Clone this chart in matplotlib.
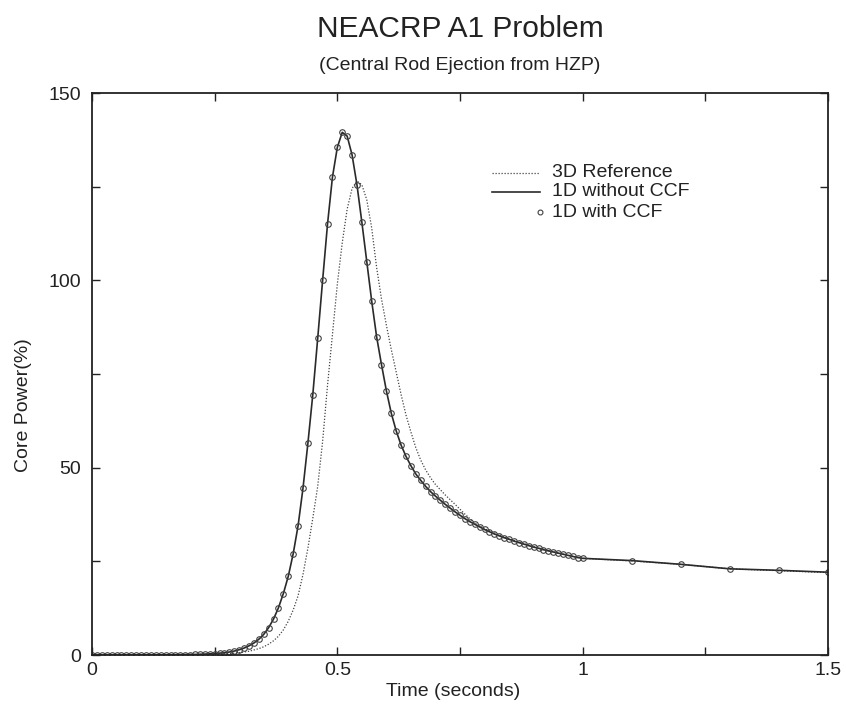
import numpy as np
import matplotlib
matplotlib.use("Agg")
import matplotlib.pyplot as plt
from matplotlib.ticker import MultipleLocator, FuncFormatter

plt.rcParams['font.family'] = ['Liberation Sans', 'DejaVu Sans']

# ---------------- data ----------------
title = "NEACRP A1 Problem"
subtitle = "(Central Rod Ejection from HZP)"
xlabel = "Time (seconds)"
ylabel = "Core Power(%)"
series_names = ["3D Reference", "1D without CCF", "1D with CCF"]

time_1d = [0.00, 0.01, 0.02, 0.03, 0.04, 0.05, 0.06, 0.07, 0.08, 0.09,
           0.10, 0.11, 0.12, 0.13, 0.14, 0.15, 0.16, 0.17, 0.18, 0.19,
           0.20, 0.21, 0.22, 0.23, 0.24, 0.25, 0.26, 0.27, 0.28, 0.29,
           0.30, 0.31, 0.32, 0.33, 0.34, 0.35, 0.36, 0.37, 0.38, 0.39,
           0.40, 0.41, 0.42, 0.43, 0.44, 0.45, 0.46, 0.47, 0.48, 0.49,
           0.50, 0.51, 0.52, 0.53, 0.54, 0.55, 0.56, 0.57, 0.58, 0.59,
           0.60, 0.61, 0.62, 0.63, 0.64, 0.65, 0.66, 0.67, 0.68, 0.69,
           0.70, 0.71, 0.72, 0.73, 0.74, 0.75, 0.76, 0.77, 0.78, 0.79,
           0.80, 0.81, 0.82, 0.83, 0.84, 0.85, 0.86, 0.87, 0.88, 0.89,
           0.90, 0.91, 0.92, 0.93, 0.94, 0.95, 0.96, 0.97, 0.98, 0.99,
           1.00, 1.10, 1.20, 1.30, 1.40, 1.50]

power_1d_noccf = [0.0, 0.0, 0.0, 0.0, 0.0, 0.0, 0.0, 0.0, 0.0, 0.0,
                  0.01, 0.01, 0.02, 0.02, 0.03, 0.04, 0.05, 0.06, 0.08, 0.10,
                  0.13, 0.16, 0.20, 0.25, 0.32, 0.40, 0.50, 0.62, 0.80, 1.05,
                  1.4, 1.85, 2.45, 3.2, 4.2, 5.5, 7.3, 9.6, 12.6, 16.4,
                  21.0, 27.0, 34.5, 44.5, 56.5, 69.5, 84.5, 100.0, 115.0, 127.5,
                  135.5, 139.5, 138.5, 133.5, 125.5, 115.5, 105.0, 94.5, 85.0, 77.5,
                  70.5, 64.5, 59.8, 56.0, 53.0, 50.5, 48.3, 46.6, 45.0, 43.6,
                  42.4, 41.3, 40.2, 39.2, 38.2, 37.3, 36.4, 35.6, 34.9, 34.2,
                  33.5, 32.9, 32.3, 31.8, 31.3, 30.9, 30.4, 30.0, 29.6, 29.2,
                  28.8, 28.5, 28.1, 27.8, 27.5, 27.2, 26.9, 26.6, 26.3, 26.0,
                  25.8, 25.2, 24.2, 23.0, 22.6, 22.1]

power_1d_ccf = [0.0, 0.0, 0.0, 0.0, 0.0, 0.0, 0.0, 0.0, 0.0, 0.0,
                0.01, 0.01, 0.02, 0.02, 0.03, 0.04, 0.05, 0.06, 0.08, 0.10,
                0.13, 0.16, 0.20, 0.25, 0.32, 0.40, 0.50, 0.62, 0.80, 1.05,
                1.4, 1.85, 2.45, 3.2, 4.2, 5.5, 7.3, 9.6, 12.6, 16.4,
                21.0, 27.0, 34.5, 44.5, 56.5, 69.5, 84.5, 100.0, 115.0, 127.5,
                135.5, 139.5, 138.5, 133.5, 125.5, 115.5, 105.0, 94.5, 85.0, 77.5,
                70.5, 64.5, 59.8, 56.0, 53.0, 50.5, 48.3, 46.6, 45.0, 43.6,
                42.4, 41.3, 40.2, 39.2, 38.2, 37.3, 36.4, 35.6, 34.9, 34.2,
                33.5, 32.9, 32.3, 31.8, 31.3, 30.9, 30.4, 30.0, 29.6, 29.2,
                28.8, 28.5, 28.1, 27.8, 27.5, 27.2, 26.9, 26.6, 26.3, 26.0,
                25.8, 25.2, 24.2, 23.0, 22.6, 22.1]

time_3d = [0.00, 0.05, 0.10, 0.15, 0.20, 0.25, 0.28, 0.30, 0.32, 0.34,
           0.35, 0.36, 0.37, 0.38, 0.39, 0.40, 0.41, 0.42, 0.43, 0.44,
           0.45, 0.46, 0.47, 0.48, 0.49, 0.50, 0.51, 0.52, 0.53, 0.54,
           0.55, 0.56, 0.57, 0.58, 0.59, 0.60, 0.61, 0.62, 0.63, 0.64,
           0.65, 0.66, 0.67, 0.68, 0.69, 0.70, 0.72, 0.74, 0.76, 0.78,
           0.80, 0.85, 0.90, 0.95, 1.00, 1.10, 1.20, 1.30, 1.40, 1.50]

power_3d = [0.0, 0.0, 0.01, 0.02, 0.06, 0.2, 0.4, 0.6, 1.0, 1.7,
            2.2, 2.9, 3.8, 5.0, 6.7, 9.0, 12.0, 15.8, 21.5, 28.5,
            36.5, 45.0, 57.0, 72.0, 85.5, 99.0, 110.0, 119.0, 124.5, 126.5,
            125.5, 121.5, 114.0, 103.5, 95.0, 88.0, 81.5, 75.5, 69.5, 64.0,
            59.5, 55.3, 52.0, 49.4, 47.3, 45.5, 42.7, 40.2, 37.6, 35.2,
            33.7, 31.0, 28.9, 27.2, 25.8, 25.1, 24.2, 23.0, 22.5, 22.0]

x_ticks = [0, 0.5, 1, 1.5]
y_ticks = [0, 50, 100, 150]

# ---------------- figure ----------------
fig = plt.figure(figsize=(8.46, 7.11), dpi=100)
ax = fig.add_axes([92 / 846, 56 / 711, 736 / 846, 562 / 711])

line_col = '#2a2a2a'
ref_line, = ax.plot(time_3d, power_3d, color='#444444', lw=0.9,
                    linestyle=(0, (1.0, 1.4)), label=series_names[0])
solid_line, = ax.plot(time_1d, power_1d_noccf, color=line_col, lw=1.2,
                      label=series_names[1])
mk_line, = ax.plot(time_1d, power_1d_ccf, linestyle='none', marker='o',
                   markersize=4.0, mfc='none', mec='#404040', mew=0.8,
                   label=series_names[2])

ax.set_xlim(0, 1.5)
ax.set_ylim(0, 150)
ax.set_xticks(x_ticks)
ax.set_yticks(y_ticks)
ax.xaxis.set_minor_locator(MultipleLocator(0.25))
ax.yaxis.set_minor_locator(MultipleLocator(25))
ax.xaxis.set_major_formatter(FuncFormatter(lambda v, p: f"{v:g}"))
ax.tick_params(which='both', direction='in', top=True, right=True,
               length=6, width=1.0, color='#222222',
               labelsize=14, labelcolor='#222222')
ax.tick_params(axis='x', pad=5)
ax.tick_params(axis='y', pad=8)
for s in ax.spines.values():
    s.set_linewidth(1.3)
    s.set_color('#222222')

ax.set_xlabel(xlabel, fontsize=14, color='#222222', labelpad=3, x=0.49)
ax.set_ylabel(ylabel, fontsize=14, color='#222222', labelpad=12, y=0.445)

fig.text(460 / 846, 1 - 37 / 711, title, ha='center', va='baseline',
         fontsize=21.5, color='#222222')
fig.text(460 / 846, 1 - 70 / 711, subtitle, ha='center', va='baseline',
         fontsize=14, color='#222222')

# legend (drawn manually, sample left of text, marker at right end)
rows_y = [0.858, 0.824, 0.788]
x0, x1, xt = 0.543, 0.609, 0.625
ax.plot([x0, x1], [rows_y[0]] * 2, transform=ax.transAxes, color='#444444',
        lw=0.9, linestyle=(0, (1.0, 1.4)))
ax.plot([x0, x1], [rows_y[1]] * 2, transform=ax.transAxes, color=line_col,
        lw=1.2)
ax.plot([x1], [rows_y[2]], transform=ax.transAxes, linestyle='none',
        marker='o', markersize=3.5, mfc='none', mec='#404040', mew=0.8)
for name, yy in zip(series_names, rows_y):
    ax.text(xt, yy, name, transform=ax.transAxes, ha='left', va='center',
            fontsize=14, color='#222222')

fig.savefig("out.png", dpi=100)
